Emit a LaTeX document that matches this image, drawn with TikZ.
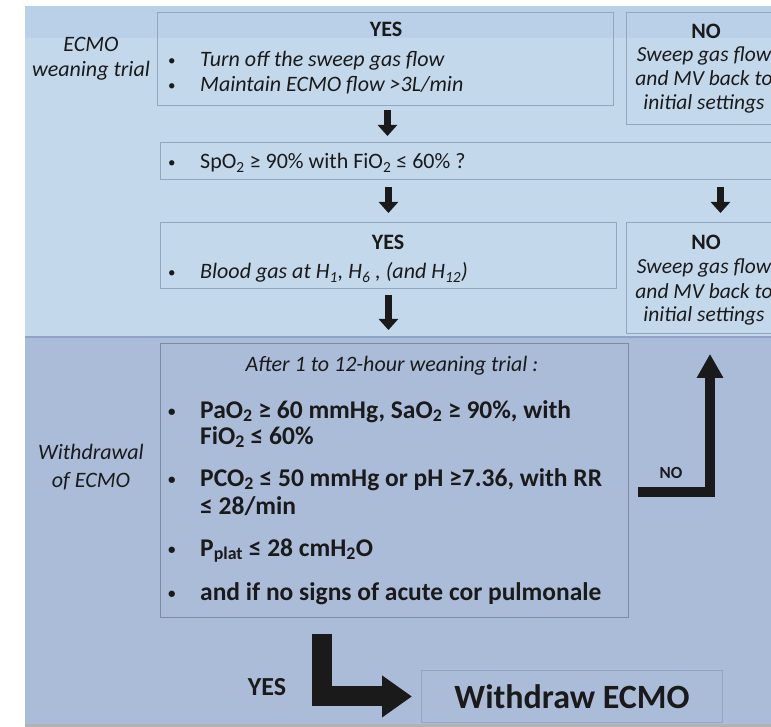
\documentclass[tikz,border=0pt]{standalone}
\usepackage{fontspec}
\setmainfont{Carlito}
\usetikzlibrary{arrows.meta, positioning}

\definecolor{topbg}{HTML}{C4D8EC}
\definecolor{topband}{HTML}{B9D0E8}
\definecolor{botbg}{HTML}{ABBCD9}
\definecolor{divline}{HTML}{8DA3C8}
\definecolor{topline}{HTML}{93A6BE}
\definecolor{botline}{HTML}{7D8BA6}
\definecolor{ink}{HTML}{1A1A1A}

\newcommand{\dotmark}[1]{\makebox[#1][l]{\upshape\raisebox{1.5pt}{\fontsize{15}{15}\selectfont•}}}

\begin{document}
\begin{tikzpicture}[
  x=1pt, y=-1pt,
  box/.style={draw=topline, line width=0.9pt, rectangle, anchor=north west, inner sep=0pt},
  head/.style={anchor=base, text=ink, font=\fontsize{22}{25}\selectfont\bfseries},
  note/.style={anchor=base, text=ink, align=center, font=\fontsize{22}{24}\selectfont\itshape},
  items/.style={anchor=base west, text=ink, align=left, inner sep=0pt, font=\fontsize{22}{25}\selectfont},
  crit/.style={anchor=base west, text=ink, align=left, inner sep=0pt, font=\fontsize{25.5}{26}\selectfont\bfseries},
  downarrow/.style={-{Triangle[length=11pt, width=19pt]}, line width=7pt, draw=ink},
  bigarrow/.style={-{Triangle[length=24pt, width=25pt]}, line width=10pt, line join=miter, draw=ink},
  yesarrow/.style={-{Triangle[length=30pt, width=40pt]}, line width=20pt, line join=miter, draw=ink}
]
\clip (0,0) rectangle (771,727);

% Background bands
\fill[white] (0,0) rectangle (771,727);
\fill[gray!60] (25,8) rectangle (771,727);
\fill[topbg] (25,6) rectangle (771,337);
\fill[topband] (25,6) rectangle (771,38);
\fill[botbg] (25,337) rectangle (771,724);
\draw[divline, line width=1.5pt] (25,337) -- (771,337);

% Row labels (multi-line nodes sit on their last baseline)
\node[note, font=\fontsize{22}{25}\selectfont\itshape] (trial) at (91,77) {ECMO\\weaning trial};
\node[note, font=\fontsize{22}{28}\selectfont\itshape] (withdrawal) at (91,487) {Withdrawal\\of ECMO};

% Row 1: first YES / NO
\node[box, minimum width=456, minimum height=93] (yes1) at (157,12) {};
\node[head] (yes1h) at (386,37) {YES};
\node[items, font=\fontsize{22}{25}\selectfont\itshape] (yes1t) at (168,92)
  {\dotmark{32pt}Turn off  the sweep gas flow\\
   \dotmark{32pt}Maintain ECMO flow >3L/min};

\node[box, minimum width=170, minimum height=112] (no1) at (626,12) {};
\node[head] (no1h) at (706,39) {NO};
\node[note, font=\fontsize{21.5}{24}\selectfont\itshape] (no1t) at (704,110) {Sweep gas flow\\and MV back to\\initial settings};

% Row 2: question
\node[box, minimum width=640, minimum height=37] (spo2) at (160,142) {};
\node[items] (spo2t) at (168,169)
  {\dotmark{32pt}SpO\textsubscript{2} ≥ 90\% with FiO\textsubscript{2} ≤ 60\% ?};

% Row 3: second YES / NO
\node[box, minimum width=456, minimum height=66] (yes2) at (160,222) {};
\node[head] (yes2h) at (388,250) {YES};
\node[items, font=\fontsize{22}{25}\selectfont\itshape] (yes2t) at (168,279)
  {\dotmark{32pt}Blood gas at H\textsubscript{1}, H\textsubscript{6} , (and H\textsubscript{12})};

\node[box, minimum width=170, minimum height=111] (no2) at (626,222) {};
\node[head] (no2h) at (706,250) {NO};
\node[note, font=\fontsize{21.5}{24}\selectfont\itshape] (no2t) at (704,322) {Sweep gas flow\\and MV back to\\initial settings};

% Row 4: criteria after the trial
\node[box, draw=botline, minimum width=468, minimum height=274] (crit) at (160,343) {};
\node[note] (after) at (392,371) {After 1 to 12-hour weaning trial :};
\node[crit] (crit1) at (168,444)
  {\dotmark{32pt}PaO\textsubscript{2} ≥ 60 mmHg, SaO\textsubscript{2} ≥ 90\%, with\\
   \hspace*{32pt}FiO\textsubscript{2} ≤ 60\%};
\node[crit, font=\fontsize{25.5}{28}\selectfont\bfseries] (crit2) at (168,514)
  {\dotmark{32pt}PCO\textsubscript{2} ≤ 50 mmHg or pH ≥7.36, with RR\\
   \hspace*{32pt}≤ 28/min};
\node[crit] (crit3) at (168,556)
  {\dotmark{32pt}P\textsubscript{plat} ≤ 28 cmH\textsubscript{2}O};
\node[crit] (crit4) at (168,600)
  {\dotmark{32pt}and if no signs of acute cor pulmonale};

% Row 5: outcome
\node[box, minimum width=301, minimum height=52] (wd) at (421,670) {};
\node[anchor=base, text=ink, font=\fontsize{34}{36}\selectfont\bfseries] (wdt) at (572,708) {Withdraw ECMO};
\node[head, font=\fontsize{26}{28}\selectfont\bfseries] (yesl) at (267,695) {YES};
\node[head, font=\fontsize{17}{20}\selectfont\bfseries] (nol) at (671,478) {NO};
\coordinate (noturn) at (710,492);

% Arrows
\draw[downarrow, shorten <=4pt, shorten >=6pt] ([xshift=2pt]yes1.south) -- ([xshift=2pt]yes1.south |- spo2.north);
\draw[downarrow, shorten <=7pt, shorten >=9pt] (yes2.north |- spo2.south) -- (yes2.north);
\draw[downarrow, shorten <=7pt, shorten >=9pt] ([xshift=9pt]no2.north |- spo2.south) -- ([xshift=9pt]no2.north);
\draw[downarrow, shorten <=6pt, shorten >=13pt] (yes2.south) -- (yes2.south |- crit.north);
\draw[bigarrow, shorten <=9pt, shorten >=20pt] (crit.east |- noturn) -- (noturn) -- (noturn |- no2.south);
\draw[yesarrow, shorten <=16pt, shorten >=9pt] ([xshift=-72pt]crit.south) |- (wd.west);

\end{tikzpicture}
\end{document}
